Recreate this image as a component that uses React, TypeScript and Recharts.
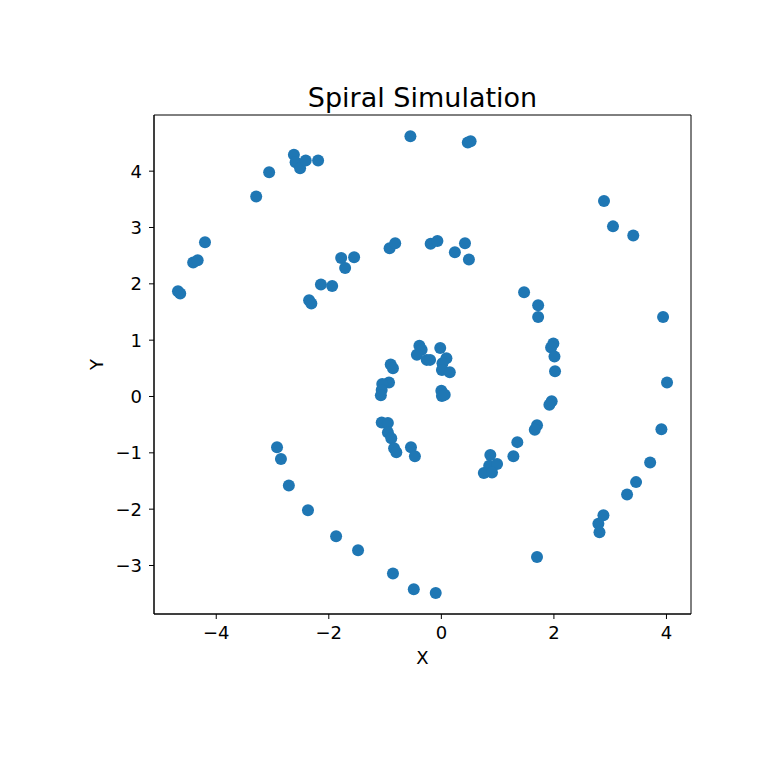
import { ScatterChart, Scatter, XAxis, YAxis, ReferenceArea } from "recharts"

const xs = [
  -0.55, 0.47, 0.52, -2.62, -2.59, -2.51, -2.41, -2.19, -3.06, -3.29,
  -4.2, -4.41, -4.33, -4.68, -4.64, 2.89, 3.05, 3.41, 3.94, 4.01,
  3.91, 3.71, 3.46, 3.3, 2.88, 2.79, 2.81, 1.7, -0.1, -0.49,
  -0.86, -1.48, -1.87, -2.37, -2.71, -2.85, -2.92,
  -0.92, -0.82, -0.19, -0.07, 0.42, 0.24, 0.49, -1.78, -1.55,
  -1.71, -2.14, -1.94, -2.35, -2.31, 1.47, 1.72, 1.72, 1.99, 1.95,
  2.01, 2.02, 1.96, 1.92, 1.7, 1.66, 1.35, 1.28, 0.87, 0.85,
  0.99, 0.755, 0.9, -0.54, -0.47, -1.06, -0.95, -0.95, -0.89, -0.84, -0.8,
  -0.39, -0.35, -0.435, -0.26, -0.2, -0.02, 0.09, 0.02, 0.01, 0.15,
  -0.9, -0.86, -0.93, -1.05, -1.06, -1.075, 0.0, 0.01, 0.06,
]
const ys = [
  4.62, 4.51, 4.53, 4.29, 4.16, 4.05, 4.19, 4.19, 3.98, 3.55,
  2.74, 2.38, 2.42, 1.87, 1.83, 3.47, 3.02, 2.86, 1.41, 0.25,
  -0.58, -1.17, -1.52, -1.74, -2.11, -2.26, -2.41, -2.85, -3.49, -3.42,
  -3.14, -2.73, -2.48, -2.02, -1.58, -1.11, -0.9,
  2.63, 2.72, 2.71, 2.76, 2.72, 2.56, 2.43, 2.46, 2.47,
  2.28, 1.99, 1.96, 1.71, 1.65, 1.85, 1.62, 1.41, 0.94, 0.87,
  0.71, 0.45, -0.085, -0.145, -0.51, -0.59, -0.81, -1.06, -1.04, -1.23,
  -1.2, -1.36, -1.35, -0.9, -1.06, -0.46, -0.47, -0.64, -0.74, -0.92, -0.99,
  0.9, 0.83, 0.74, 0.65, 0.65, 0.86, 0.68, 0.59, 0.47, 0.43,
  0.57, 0.5, 0.25, 0.22, 0.115, 0.02, 0.1, 0.01, 0.03,
]
const xTicks = [-4, -2, 0, 2, 4]
const yTicks = [-3, -2, -1, 0, 1, 2, 3, 4]
const xDomain = [-5.106, 4.436]
const yDomain = [-3.861, 4.997]

const points = xs.map((x, i) => ({ x, y: ys[i] }))

const FONT = "'DejaVu Sans', sans-serif"
const DOT = "#1f77b4"

const fmt = (v: number) => (v < 0 ? `\u2212${Math.abs(v)}` : `${v}`)

function Dot(props: any) {
  return <circle cx={props.cx} cy={props.cy} r={6} fill={DOT} />
}

export default function App() {
  return (
    <div style={{ position: "absolute", left: 0, top: 0, width: 768, height: 768, background: "#fff", fontFamily: FONT }}>
      <div
        style={{
          position: "absolute",
          left: 154,
          width: 537,
          top: 82,
          textAlign: "center",
          fontSize: 27,
          color: "#000",
        }}
      >
        Spiral Simulation
      </div>
      <ScatterChart width={768} height={768} margin={{ top: 115, right: 77, bottom: 104, left: 94 }}>
        <XAxis
          type="number"
          dataKey="x"
          domain={xDomain}
          ticks={xTicks}
          allowDataOverflow
          tickFormatter={fmt}
          height={50}
          tickSize={5}
          tickMargin={7}
          axisLine={{ stroke: "#000" }}
          tickLine={{ stroke: "#000" }}
          tick={{ fill: "#000", fontSize: 18, fontFamily: FONT }}
          label={{
            content: ({ viewBox }: any) => (
              <text x={viewBox.x + viewBox.width / 2} y={664} textAnchor="middle" fontSize={18} fontFamily={FONT} fill="#000">
                X
              </text>
            ),
          }}
        />
        <YAxis
          type="number"
          dataKey="y"
          domain={yDomain}
          ticks={yTicks}
          allowDataOverflow
          tickFormatter={fmt}
          width={60}
          tickSize={5}
          tickMargin={7}
          axisLine={{ stroke: "#000" }}
          tickLine={{ stroke: "#000" }}
          tick={{ fill: "#000", fontSize: 18, fontFamily: FONT }}
          label={{
            content: ({ viewBox }: any) => {
              const cy = viewBox.y + viewBox.height / 2
              return (
                <text x={103} y={cy} transform={`rotate(-90 103 ${cy})`} textAnchor="middle" fontSize={18} fontFamily={FONT} fill="#000">
                  Y
                </text>
              )
            },
          }}
        />
        <ReferenceArea
          x1={xDomain[0]}
          x2={xDomain[1]}
          y1={yDomain[0]}
          y2={yDomain[1]}
          fill="none"
          stroke="#000"
          strokeWidth={1}
          ifOverflow="visible"
        />
        <Scatter data={points} fill={DOT} shape={<Dot />} isAnimationActive={false} />
      </ScatterChart>
    </div>
  )
}
